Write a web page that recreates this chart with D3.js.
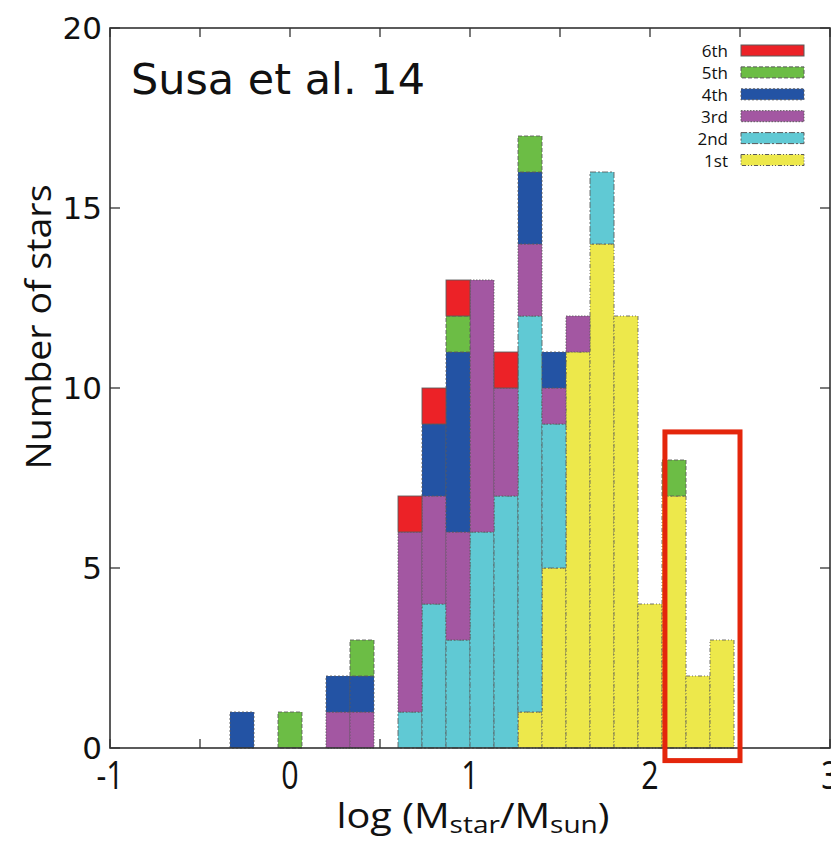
<!DOCTYPE html>
<html><head><meta charset="utf-8">
<script src="https://cdn.jsdelivr.net/npm/d3@7"></script>
<style>body{margin:0;background:#fff}svg{display:block}</style>
</head><body>
<svg id="c" width="831" height="843"></svg>
<script>
// ---------- data ----------
const binLefts = [-0.3333,-0.2,-0.0667,0.0667,0.2,0.3333,0.4667,0.6,0.7333,0.8667,1.0,1.1333,1.2667,1.4,1.5333,1.6667,1.8,1.9333,2.0667,2.2,2.3333];
const binWidth = 0.1333;
const gen1st = [0,0,0,0,0,0,0,0,0,0,0,0,1,5,11,14,12,4,7,2,3];
const gen2nd = [0,0,0,0,0,0,0,1,4,3,6,7,11,4,0,2,0,0,0,0,0];
const gen3rd = [0,0,0,0,1,1,0,5,3,3,7,3,2,1,1,0,0,0,0,0,0];
const gen4th = [1,0,0,0,1,1,0,0,2,5,0,0,2,1,0,0,0,0,0,0,0];
const gen5th = [0,0,1,0,0,1,0,0,0,1,0,0,1,0,0,0,0,0,1,0,0];
const gen6th = [0,0,0,0,0,0,0,1,1,1,0,1,0,0,0,0,0,0,0,0,0];
const seriesNames = ["1st","2nd","3rd","4th","5th","6th"];
const seriesColors = ["#ede84b","#60c9d4","#a357a2","#2353a4","#6cbd45","#ec2227"];
const seriesDash = ["4,2,1,2,1,2","6,2,2,2","1.5,1.5","2,2","4,2",null];
const xTicks = [-1,0,1,2,3];
const xMinorTicks = [-1,-0.5,0,0.5,1,1.5,2,2.5,3];
const yTicks = [0,5,10,15,20];
const highlight = {x0:2.083, x1:2.5, y0:-0.35, y1:8.78};
const titleText = "Susa et al. 14";

// ---------- layout ----------
const svg = d3.select("#c");
const L=110, R=830, T=28, B=748;
const x = d3.scaleLinear().domain([-1,3]).range([L,R]);
const y = d3.scaleLinear().domain([0,20]).range([B,T]);

const rows = binLefts.map((b,i)=>({x0:b, "1st":gen1st[i],"2nd":gen2nd[i],"3rd":gen3rd[i],"4th":gen4th[i],"5th":gen5th[i],"6th":gen6th[i]}));
const stacked = d3.stack().keys(seriesNames)(rows);

// ticks (under bars)
const tk = svg.append("g").attr("stroke","#333").attr("stroke-width",1.3);
xMinorTicks.forEach(v=>{
  tk.append("line").attr("x1",x(v)).attr("x2",x(v)).attr("y1",B).attr("y2",B-9);
  tk.append("line").attr("x1",x(v)).attr("x2",x(v)).attr("y1",T).attr("y2",T+9);
});
yTicks.forEach(v=>{
  tk.append("line").attr("x1",L).attr("x2",L+10).attr("y1",y(v)).attr("y2",y(v));
  tk.append("line").attr("x1",R).attr("x2",R-10).attr("y1",y(v)).attr("y2",y(v));
});

// bars
stacked.forEach((s,si)=>{
  const g = svg.append("g");
  g.selectAll("rect").data(s.filter(d=>d[1]>d[0])).join("rect")
    .attr("x",d=>x(d.data.x0))
    .attr("width",d=>x(d.data.x0+binWidth)-x(d.data.x0))
    .attr("y",d=>y(d[1]))
    .attr("height",d=>y(d[0])-y(d[1]))
    .attr("fill",seriesColors[si])
    .attr("stroke","#5a5a5a").attr("stroke-opacity",0.85)
    .attr("stroke-width",1)
    .attr("stroke-dasharray",seriesDash[si]);
});

// frame
svg.append("rect").attr("x",L).attr("y",T).attr("width",R-L).attr("height",B-T)
  .attr("fill","none").attr("stroke","#333").attr("stroke-width",1.6);

// y tick labels
svg.append("g").selectAll("text").data(yTicks).join("text")
  .attr("x",L-8).attr("y",d=>y(d)).attr("text-anchor","end")
  .attr("dominant-baseline","central")
  .style("font-family","DejaVu Sans, Verdana, sans-serif").style("font-size","31px").attr("fill","#111")
  .text(d=>d);

// x tick labels
svg.append("g").selectAll("text").data(xTicks).join("text")
  .attr("transform",d=>`translate(${x(d)},789) scale(0.8,1)`)
  .attr("text-anchor","middle")
  .style("font-family","Open Sans, sans-serif").style("font-size","38px").attr("fill","#111")
  .text(d=>d<0?"-"+Math.abs(d):d);

// axis titles
const xl = svg.append("text").attr("x",(L+R)/2+3).attr("y",828).attr("text-anchor","middle")
  .attr("textLength",273).attr("lengthAdjust","spacingAndGlyphs")
  .style("font-family","Open Sans, sans-serif").style("font-size","34px").attr("fill","#111");
xl.append("tspan").text("log (M");
xl.append("tspan").attr("dy",5).style("font-size","24px").text("star");
xl.append("tspan").attr("dy",-5).text("/M");
xl.append("tspan").attr("dy",5).style("font-size","24px").text("sun");
xl.append("tspan").attr("dy",-5).text(")");

svg.append("text").attr("transform","translate(51,327) rotate(-90)").attr("text-anchor","middle")
  .attr("textLength",285).attr("lengthAdjust","spacingAndGlyphs")
  .style("font-family","Open Sans, sans-serif").style("font-size","34px").attr("fill","#111")
  .text("Number of stars");

// title
svg.append("text").attr("x",131).attr("y",94).attr("textLength",294).attr("lengthAdjust","spacingAndGlyphs")
  .style("font-family","DejaVu Sans, Verdana, sans-serif").style("font-size","42px").attr("fill","#111")
  .text(titleText);

// legend (6th on top)
const legOrder = seriesNames.map((n,i)=>i).reverse();
const lg = svg.append("g");
legOrder.forEach((si,row)=>{
  const cy = 50.5 + row*21.9;
  lg.append("text").attr("x",728).attr("y",cy).attr("text-anchor","end").attr("dominant-baseline","central")
    .style("font-family","Open Sans, sans-serif").style("font-size","17px").attr("fill","#111")
    .text(seriesNames[si]);
  lg.append("rect").attr("x",741).attr("y",cy-5.5).attr("width",63).attr("height",11)
    .attr("fill",seriesColors[si]).attr("stroke","#5a5a5a").attr("stroke-width",1)
    .attr("stroke-dasharray",seriesDash[si]);
});

// highlight box
svg.append("rect").attr("x",x(highlight.x0)).attr("y",y(highlight.y1))
  .attr("width",x(highlight.x1)-x(highlight.x0)).attr("height",y(highlight.y0)-y(highlight.y1))
  .attr("fill","none").attr("stroke","#e4260c").attr("stroke-width",5);
</script>
</body></html>
